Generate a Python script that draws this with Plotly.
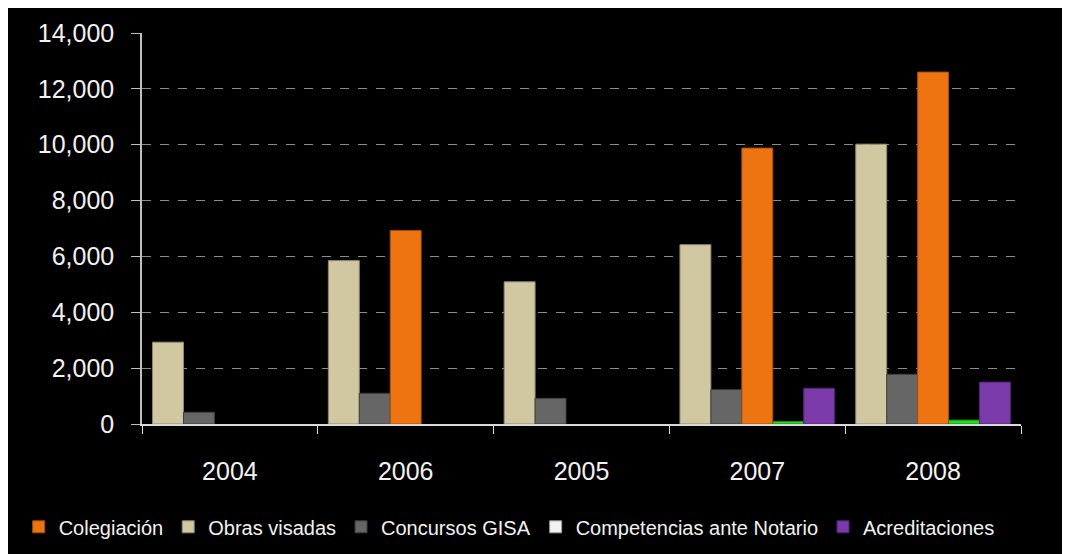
import plotly.graph_objects as go

# Data
years = ["2004", "2006", "2005", "2007", "2008"]
obras_visadas = [2930, 5850, 5090, 6420, 10020]
concursos_gisa = [420, 1100, 920, 1230, 1780]
colegiacion = [None, 6930, None, 9880, 12600]
competencias_notario = [None, None, None, 90, 140]
acreditaciones = [None, None, None, 1280, 1500]

y_ticks = [0, 2000, 4000, 6000, 8000, 10000, 12000, 14000]

fig = go.Figure()

# bars in group order (left to right), legend order set with legendrank
series = [
    ("Obras visadas", obras_visadas, "#CFC8A1", "#8f8a6c", 2, "1"),
    ("Concursos GISA", concursos_gisa, "#666666", "#3f3f3f", 3, "2"),
    ("Colegiación", colegiacion, "#EE7412", "#a4500c", 1, "3"),
    ("Competencias ante Notario", competencias_notario, "#22DD22", "#139013", 4, "4"),
    ("Acreditaciones", acreditaciones, "#7B3AAA", "#4f2470", 5, "5"),
]

for name, vals, color, edge, rank, group in series:
    fig.add_trace(go.Bar(
        x=years, y=vals, name=name,
        marker=dict(color=color, line=dict(color=edge, width=1)),
        offsetgroup=group, legendrank=rank,
        showlegend=(name != "Competencias ante Notario"),
    ))

# the legend swatch for Competencias is white in the original
fig.add_trace(go.Bar(
    x=years, y=[None] * len(years), name="Competencias ante Notario",
    marker=dict(color="#F2F2F2", line=dict(color="#9a9a9a", width=1)),
    offsetgroup="4", legendrank=4,
))

fig.update_layout(
    width=1070, height=554,
    margin=dict(l=133, r=57, t=25, b=138),
    paper_bgcolor="black",
    plot_bgcolor="black",
    barmode="group",
    bargap=0.12,
    bargroupgap=0,
    font=dict(family="Liberation Sans, Arial, sans-serif", color="#F2F2F2", size=25),
    legend=dict(
        orientation="h",
        x=-0.139, y=-0.263, xanchor="left", yanchor="middle",
        font=dict(family="Liberation Sans, Arial, sans-serif", size=20, color="#F2F2F2"),
        bgcolor="rgba(0,0,0,0)", itemclick=False,
    ),
)

fig.update_xaxes(
    type="category",
    showline=True, linecolor="#D9D9D9", linewidth=1.5,
    ticks="outside", tickson="boundaries", ticklen=8, tickcolor="#D9D9D9",
    ticklabelstandoff=24,
    showgrid=False,
    tickfont=dict(size=25, color="#F2F2F2"),
)

fig.update_yaxes(
    range=[0, 14000],
    tickvals=y_ticks, tickformat=",d",
    showline=True, linecolor="#BFBFBF", linewidth=1.5,
    ticks="outside", ticklen=9, tickcolor="#BFBFBF",
    ticklabelstandoff=12,
    showgrid=True, gridcolor="#8C8C8C", griddash="dash", gridwidth=1,
    zeroline=False,
    tickfont=dict(size=25, color="#F2F2F2"),
)

fig.write_html("out.html")
